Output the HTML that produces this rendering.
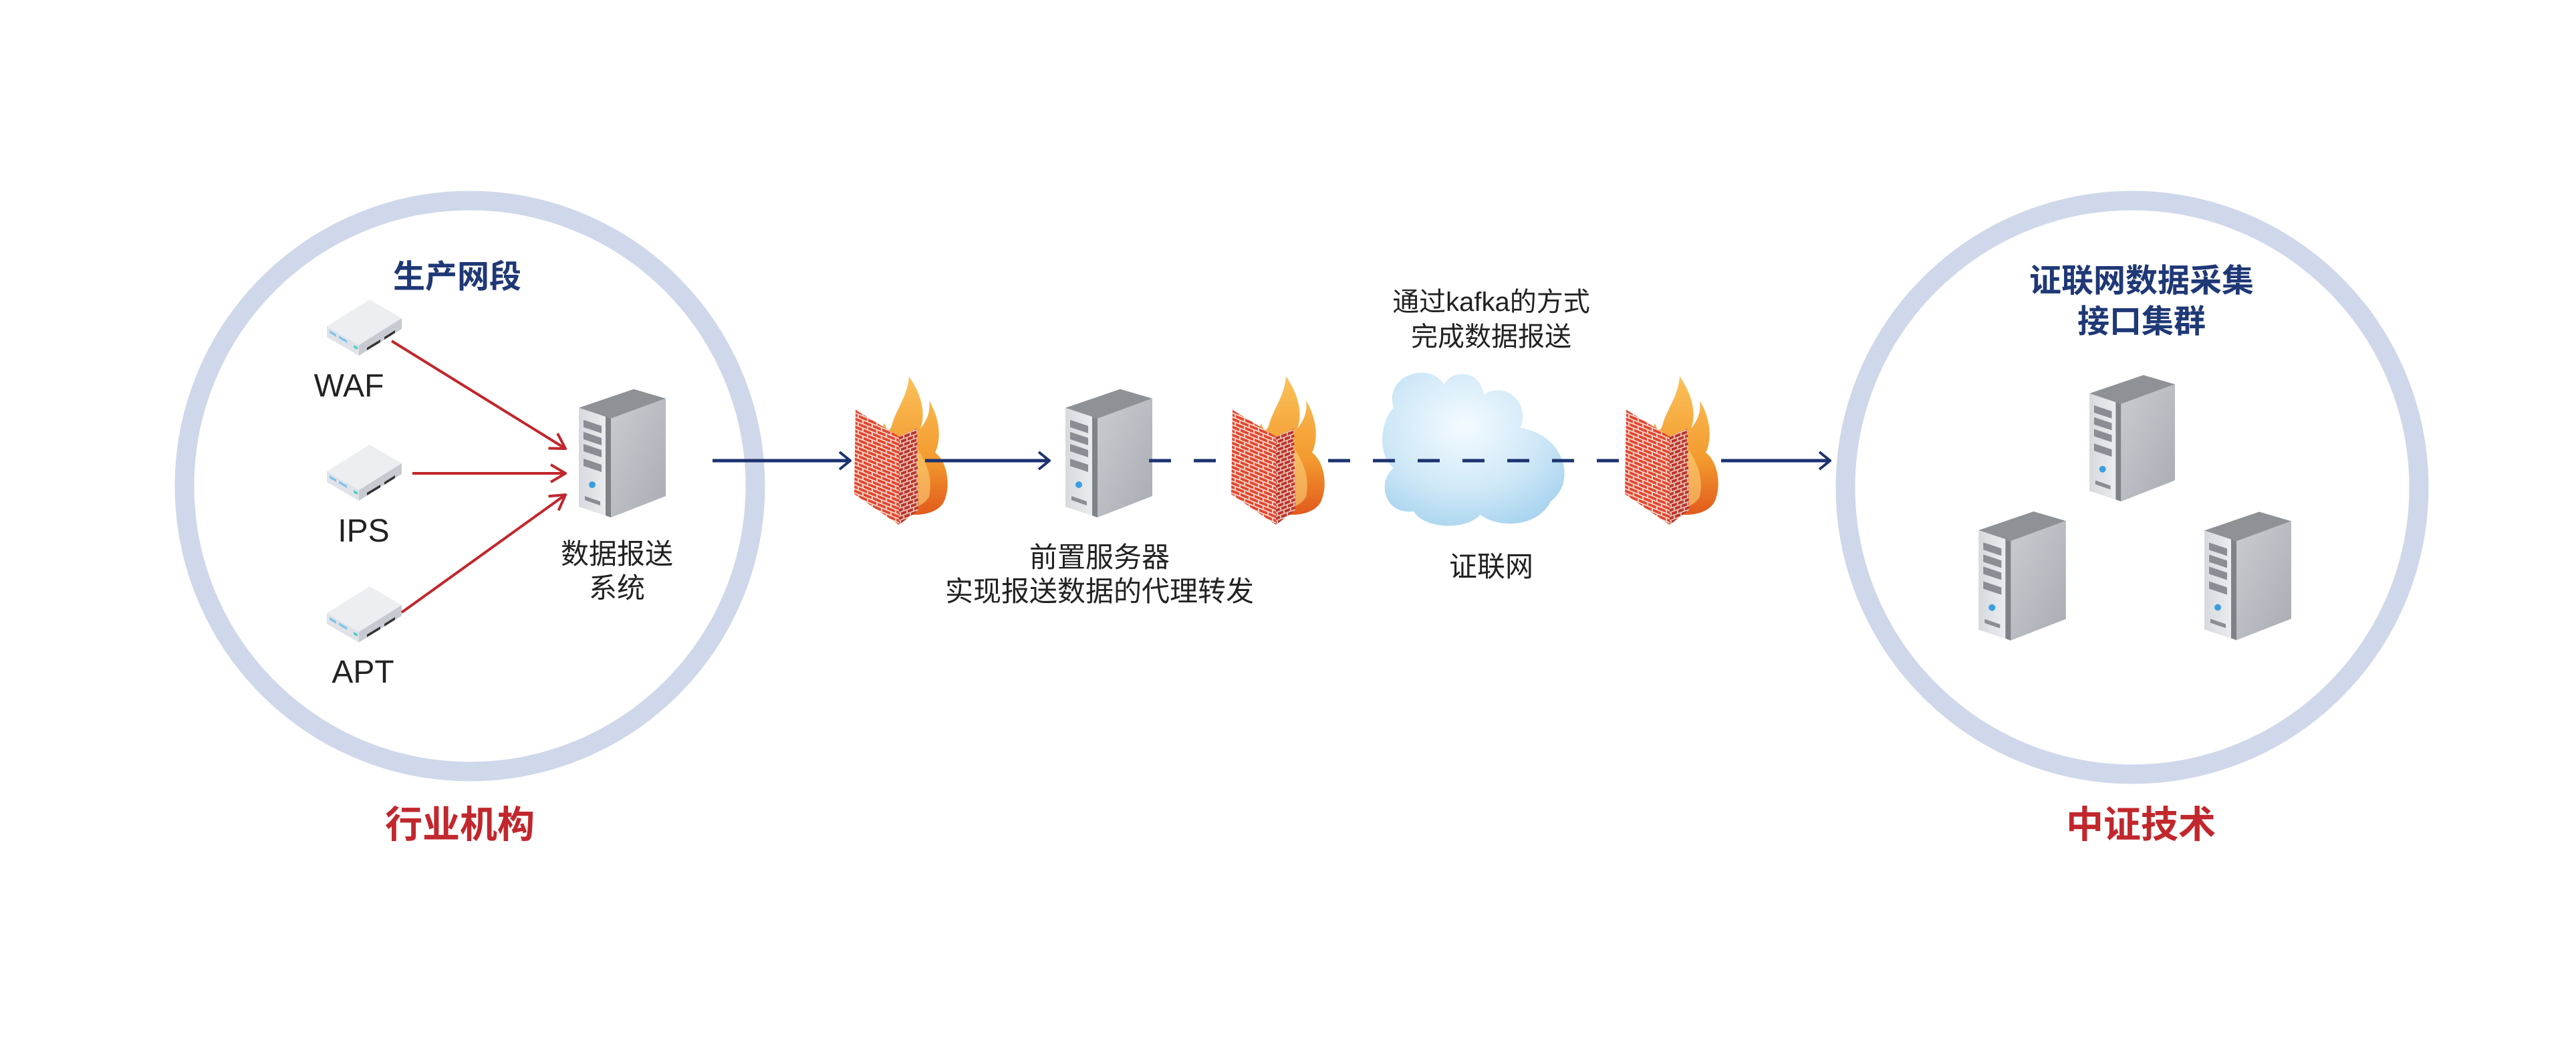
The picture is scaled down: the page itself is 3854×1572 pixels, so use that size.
<!DOCTYPE html>
<html><head><meta charset="utf-8">
<style>
html,body{margin:0;padding:0;background:#fff;}
svg{display:block;}
text{font-family:"Liberation Sans","Noto Sans CJK SC",sans-serif;}
</style></head>
<body>
<svg width="3854" height="1572" viewBox="0 0 3854 1572" xmlns="http://www.w3.org/2000/svg">
<defs>
  <linearGradient id="side" x1="0" y1="0" x2="1" y2="1">
    <stop offset="0" stop-color="#c9ccd1"/><stop offset="1" stop-color="#a9adb3"/>
  </linearGradient>
  <linearGradient id="front" x1="0" y1="0" x2="1" y2="0">
    <stop offset="0" stop-color="#d6d9de"/><stop offset="1" stop-color="#eef0f2"/>
  </linearGradient>
  <symbol id="server" viewBox="0 0 130 192">
    <polygon points="0,28 82,0 130,14 48,44" fill="#8e9297"/>
    <polygon points="0,28 48,44 48,192 0,176" fill="url(#front)"/>
    <polygon points="48,44 130,14 130,160 48,192" fill="url(#side)"/>
    <polygon points="40,41 48,44 48,192 40,189" fill="#7f8388"/>
    <g fill="#8a8e94">
      <polygon points="7,46 34,55 34,66 7,57"/>
      <polygon points="7,64 34,73 34,84 7,75"/>
      <polygon points="7,82 34,91 34,102 7,93"/>
      <polygon points="7,104 34,113 34,124 7,115"/>
      <polygon points="9,160 32,168 32,174 9,166"/>
    </g>
    <circle cx="20" cy="143" r="5" fill="#3a9ee0"/>
  </symbol>
  <symbol id="device" viewBox="0 0 112 84">
    <polygon points="0,40 64,0 112,28 48,68" fill="#eceef1"/>
    <polygon points="0,40 48,68 48,84 0,56" fill="#dfe3e8"/>
    <polygon points="48,68 112,28 112,44 48,84" fill="#c7cbd1"/>
    <g fill="#7fc3ea"><polygon points="4,46 14,52 14,56 4,50"/><polygon points="18,54 30,61 30,65 18,58"/></g>
    <g fill="#333"><polygon points="60,72 80,60 80,64 60,76"/><polygon points="86,56 102,46 102,50 86,60"/></g>
    <polygon points="40,68 46,71 46,75 40,72" fill="#5cc"/>
  </symbol>
  <pattern id="brick" width="14" height="12" patternUnits="userSpaceOnUse" patternTransform="skewY(22)">
    <rect width="14" height="12" fill="#f3d3c8"/>
    <rect x="0" y="1" width="12" height="4" fill="#e2452d"/>
    <rect x="-7" y="7" width="12" height="4" fill="#e2452d"/>
    <rect x="7" y="7" width="12" height="4" fill="#e2452d"/>
  </pattern>
  <pattern id="brick2" width="10" height="12" patternUnits="userSpaceOnUse" patternTransform="skewY(-20)">
    <rect width="10" height="12" fill="#e9b9ad"/>
    <rect x="0" y="1" width="8" height="4" fill="#b8332a"/>
    <rect x="-5" y="7" width="8" height="4" fill="#b8332a"/>
    <rect x="5" y="7" width="8" height="4" fill="#b8332a"/>
  </pattern>
  <linearGradient id="flame" x1="0" y1="0" x2="0" y2="1">
    <stop offset="0" stop-color="#fbc15a"/><stop offset="0.6" stop-color="#f39a2e"/><stop offset="1" stop-color="#e25a1c"/>
  </linearGradient>
  <symbol id="fw" viewBox="0 0 145 225">
    <path d="M40,195 C30,140 34,95 45,70 C48,80 52,84 56,74 C62,50 80,30 82,0 C104,32 106,60 99,78 C110,64 114,52 112,36 C132,70 128,100 121,114 C138,126 146,162 134,188 C120,212 75,212 40,195 Z" fill="url(#flame)"/>
    <path d="M60,190 C55,150 62,120 78,100 C80,120 90,125 96,110 C108,130 118,150 112,180 C100,200 75,200 60,190 Z" fill="#fbd27a" opacity="0.6"/>
    <polygon points="2,50 67,90 67,222 0,176" fill="url(#brick)"/>
    <polygon points="67,90 94,78 96,200 67,222" fill="url(#brick2)"/>
  </symbol>
  <radialGradient id="cloudg" cx="0.45" cy="0.35" r="0.7">
    <stop offset="0" stop-color="#f4fbff"/><stop offset="0.6" stop-color="#cfe8f7"/><stop offset="1" stop-color="#a9d4ef"/>
  </radialGradient>
  <marker id="ab" viewBox="0 0 20 30" refX="18" refY="15" markerWidth="20" markerHeight="30" markerUnits="userSpaceOnUse" orient="auto">
    <path d="M2,2 L18,15 L2,28" fill="none" stroke="#1d3370" stroke-width="4"/>
  </marker>
  <marker id="ar" viewBox="0 0 26 30" refX="24" refY="15" markerWidth="26" markerHeight="30" markerUnits="userSpaceOnUse" orient="auto">
    <path d="M2,2 L24,15 L2,28" fill="none" stroke="#c1272d" stroke-width="4"/>
  </marker>
</defs>

<circle cx="703" cy="727" r="427" fill="none" stroke="#cfd8ea" stroke-width="29"/>
<circle cx="3190" cy="729" r="429" fill="none" stroke="#cfd8ea" stroke-width="29"/>

<text x="684" y="430" font-size="48" font-weight="bold" fill="#1f3876" text-anchor="middle">生产网段</text>
<use href="#device" x="489" y="448" width="112" height="84"/>
<use href="#device" x="489" y="665" width="112" height="84"/>
<use href="#device" x="489" y="877" width="112" height="84"/>
<text x="522" y="593" font-size="48" fill="#222" text-anchor="middle">WAF</text>
<text x="544" y="810" font-size="48" fill="#222" text-anchor="middle">IPS</text>
<text x="543" y="1021" font-size="48" fill="#222" text-anchor="middle">APT</text>
<g stroke="#c1272d" stroke-width="4" fill="none">
  <line x1="586" y1="510" x2="846" y2="671" marker-end="url(#ar)"/>
  <line x1="617" y1="708" x2="846" y2="708" marker-end="url(#ar)"/>
  <line x1="601" y1="916" x2="846" y2="740" marker-end="url(#ar)"/>
</g>
<use href="#server" x="866" y="582" width="130" height="192"/>
<text x="923" y="843" font-size="42" fill="#222" text-anchor="middle">数据报送</text>
<text x="923" y="894" font-size="42" fill="#222" text-anchor="middle">系统</text>
<text x="688" y="1253" font-size="56" font-weight="bold" fill="#c1272d" text-anchor="middle">行业机构</text>

<line x1="1066" y1="689" x2="1272" y2="689" stroke="#1d3370" stroke-width="5" marker-end="url(#ab)"/>
<use href="#fw" x="1278" y="563" width="145" height="225"/>
<line x1="1384" y1="689" x2="1570" y2="689" stroke="#1d3370" stroke-width="5" marker-end="url(#ab)"/>
<use href="#server" x="1594" y="582" width="130" height="192"/>
<path d="M2085,610 C2070,560 2140,540 2160,575 C2175,550 2215,555 2220,590 C2250,570 2290,600 2275,640 C2340,650 2360,720 2320,750 C2300,790 2240,790 2215,770 C2190,795 2130,790 2115,765 C2070,770 2060,720 2085,700 C2060,680 2065,630 2085,610 Z" fill="url(#cloudg)"/>
<line x1="1719" y1="689" x2="2440" y2="689" stroke="#1d3370" stroke-width="5" stroke-dasharray="33 34"/>
<use href="#fw" x="1842" y="563" width="145" height="225"/>
<use href="#fw" x="2431" y="563" width="145" height="225"/>
<line x1="2575" y1="689" x2="2738" y2="689" stroke="#1d3370" stroke-width="5" marker-end="url(#ab)"/>
<text x="2231" y="465" font-size="40" fill="#222" text-anchor="middle">通过kafka的方式</text>
<text x="2231" y="517" font-size="40" fill="#222" text-anchor="middle">完成数据报送</text>
<text x="1645" y="848" font-size="42" fill="#222" text-anchor="middle">前置服务器</text>
<text x="1645" y="899" font-size="42" fill="#222" text-anchor="middle">实现报送数据的代理转发</text>
<text x="2231" y="862" font-size="42" fill="#222" text-anchor="middle">证联网</text>

<text x="3204" y="436" font-size="48" font-weight="bold" fill="#1f3876" text-anchor="middle">证联网数据采集</text>
<text x="3204" y="497" font-size="48" font-weight="bold" fill="#1f3876" text-anchor="middle">接口集群</text>
<use href="#server" x="3126" y="558" width="128" height="195"/>
<use href="#server" x="2960" y="765" width="131" height="193"/>
<use href="#server" x="3298" y="765" width="130" height="193"/>
<text x="3203" y="1253" font-size="56" font-weight="bold" fill="#c1272d" text-anchor="middle">中证技术</text>
</svg>
</body></html>
